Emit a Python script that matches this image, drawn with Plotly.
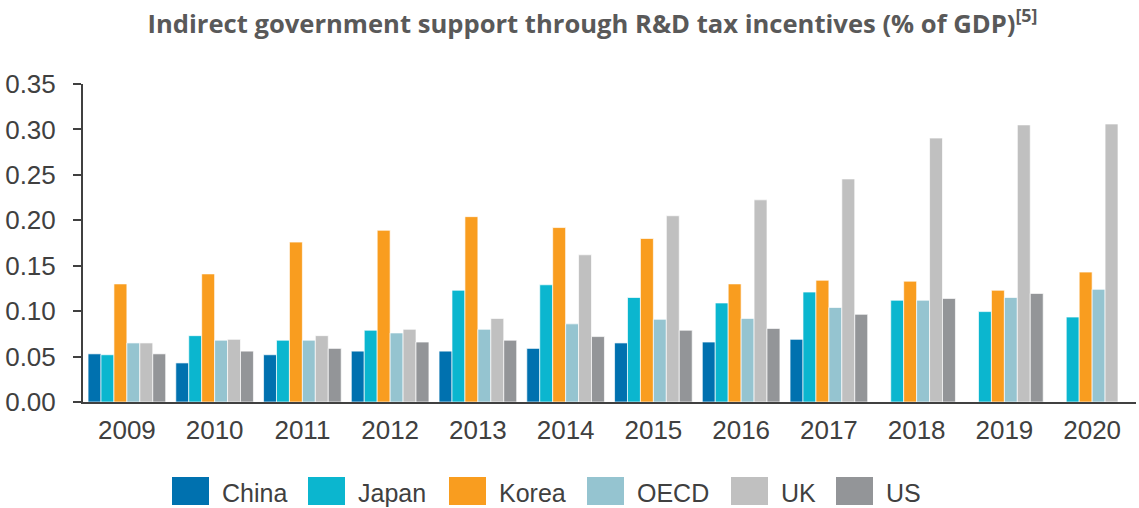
import plotly.graph_objects as go

years = ["2009", "2010", "2011", "2012", "2013", "2014", "2015", "2016", "2017", "2018", "2019", "2020"]

china = [0.053, 0.043, 0.052, 0.056, 0.056, 0.059, 0.065, 0.066, 0.069, None, None, None]
japan = [0.052, 0.073, 0.068, 0.079, 0.123, 0.129, 0.115, 0.109, 0.121, 0.112, 0.0995, 0.0935]
korea = [0.130, 0.141, 0.176, 0.189, 0.204, 0.192, 0.180, 0.130, 0.134, 0.133, 0.123, 0.143]
oecd = [0.065, 0.068, 0.068, 0.076, 0.080, 0.086, 0.091, 0.092, 0.104, 0.112, 0.115, 0.124]
uk = [0.065, 0.069, 0.073, 0.080, 0.092, 0.162, 0.205, 0.2225, 0.2455, 0.2905, 0.305, 0.306]
us = [0.053, 0.056, 0.059, 0.066, 0.068, 0.072, 0.079, 0.081, 0.0965, 0.114, 0.1195, None]

series_names = ["China", "Japan", "Korea", "OECD", "UK", "US"]
series_values = [china, japan, korea, oecd, uk, us]
colors = ["#0071AF", "#0BB6CF", "#F99D1F", "#95C4D0", "#C0C0C0", "#939598"]

W, H = 1139, 508
ML, MR, MT, MB = 83, 3, 84, 106
PW, PH = W - ML - MR, H - MT - MB

fig = go.Figure()
for name, vals, col in zip(series_names, series_values, colors):
    fig.add_trace(go.Bar(
        x=years, y=vals, name=name,
        marker=dict(color=col, line=dict(color="rgba(255,255,255,0.85)", width=0.8)),
        showlegend=False,
    ))

# custom legend (swatch left edges in pixels)
sw_left = [172, 308, 449, 587, 731, 836]
sw_w, sw_h = 37, 28
sw_top = 477
shapes = []
annotations = []
for name, col, xl in zip(series_names, colors, sw_left):
    shapes.append(dict(
        type="rect", xref="paper", yref="paper",
        x0=(xl - ML) / PW, x1=(xl + sw_w - ML) / PW,
        y0=(H - MB - (sw_top + sw_h)) / PH, y1=(H - MB - sw_top) / PH,
        fillcolor=col, line=dict(width=0),
    ))
    annotations.append(dict(
        text=name, xref="paper", yref="paper",
        x=(xl + sw_w + 11 - ML) / PW, y=(H - MB - 493) / PH,
        xanchor="left", yanchor="middle", showarrow=False,
        font=dict(family="Liberation Sans, Arial", size=25, color="#404040"),
    ))

fig.update_layout(
    width=W, height=H,
    margin=dict(l=ML, r=MR, t=MT, b=MB),
    paper_bgcolor="white", plot_bgcolor="white",
    barmode="group", bargap=0.115, bargroupgap=0,
    title=dict(
        text="Indirect government support through R&D tax incentives (% of GDP)<sup>[5]</sup>",
        x=592.5 / W, xref="container", xanchor="center",
        y=1 - 24 / H, yref="container", yanchor="middle",
        font=dict(family="Open Sans", size=25.6, color="#595959", weight="bold"),
    ),
    xaxis=dict(
        showline=True, linecolor="#404040", linewidth=2,
        ticks="", showgrid=False,
        tickfont=dict(family="Liberation Sans, Arial", size=26, color="#404040"),
        ticklabelstandoff=4,
    ),
    yaxis=dict(
        range=[0, 0.35], dtick=0.05, tick0=0, tickformat=".2f",
        showline=True, linecolor="#404040", linewidth=2,
        ticks="outside", ticklen=8, tickwidth=1.5, tickcolor="#404040",
        showgrid=False, zeroline=False,
        tickfont=dict(family="Liberation Sans, Arial", size=26, color="#404040"),
        ticklabelstandoff=12,
    ),
    shapes=shapes,
    annotations=annotations,
)

fig.write_html("out.html")
